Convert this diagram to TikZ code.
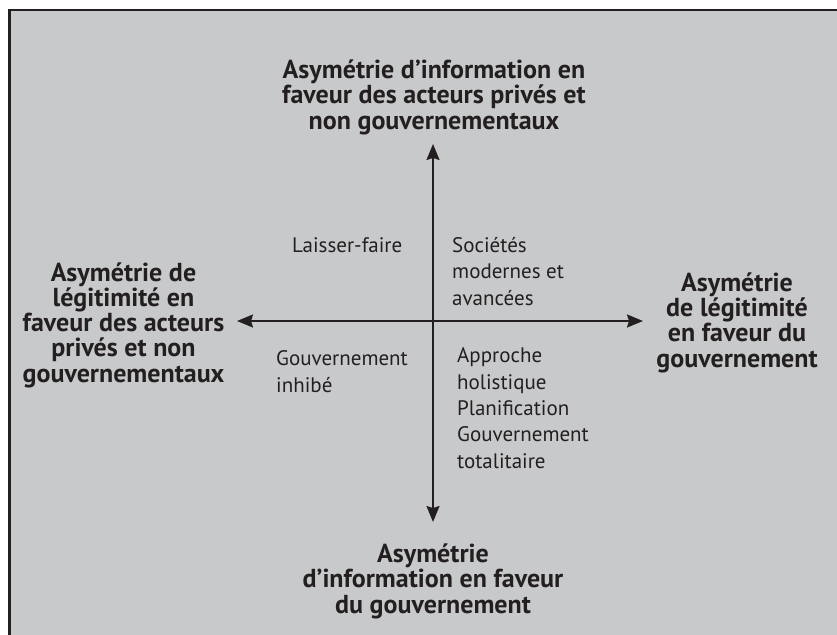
\documentclass[tikz,border=0pt]{standalone}
\usepackage{fontspec}
\setmainfont{PT Sans}
\usetikzlibrary{arrows.meta}
\definecolor{bg}{HTML}{C8C9CB}
\definecolor{ink}{HTML}{231F20}
\begin{document}
\begin{tikzpicture}[x=1pt,y=-1pt,
  head/.style={font=\fontsize{26}{25.2}\selectfont\bfseries, align=center, inner sep=0pt, text=ink, anchor=base},
  cell/.style={font=\fontsize{21}{26.3}\selectfont, align=left, inner sep=0pt, text=ink, anchor=base west},
  axis/.style={draw=ink, line width=2pt, {Stealth[length=16pt,width=13pt,inset=2pt]}-{Stealth[length=16pt,width=13pt,inset=2pt]}}]
\useasboundingbox (0,0) rectangle (837,634);
\fill[white] (0,0) rectangle (837,634);
\filldraw[fill=bg, draw=ink, line width=2.3pt] (9.5,10) rectangle (860,660);
% headings (anchored at the baseline of their last line)
\node[head] (top) at (434,129) {Asymétrie d’information en\\faveur des acteurs privés et\\non gouvernementaux};
\node[head] (left) at (123.5,382) {Asymétrie de\\légitimité en\\faveur des acteurs\\privés et non\\gouvernementaux};
\node[head] (right) at (737,367) {Asymétrie\\de légitimité\\en faveur du\\gouvernement};
\node[head] (bottom) at (433,613) {Asymétrie\\d’information en faveur\\du gouvernement};
% quadrant texts
\node[cell] (q1) at (292,252) {Laisser-faire};
\node[cell] (q2) at (452,305) {Sociétés\\modernes et\\avancées};
\node[cell] (q3) at (276,392) {Gouvernement\\inhibé};
\node[cell] (q4) at (457,468) {Approche\\holistique\\Planification\\Gouvernement\\totalitaire};
% axes
\coordinate (n) at (433,144);
\coordinate (s) at (433,522);
\coordinate (w) at (237,321);
\coordinate (e) at (643,321);
\draw[axis] (n) -- (s);
\draw[axis] (w) -- (e);
\end{tikzpicture}
\end{document}
